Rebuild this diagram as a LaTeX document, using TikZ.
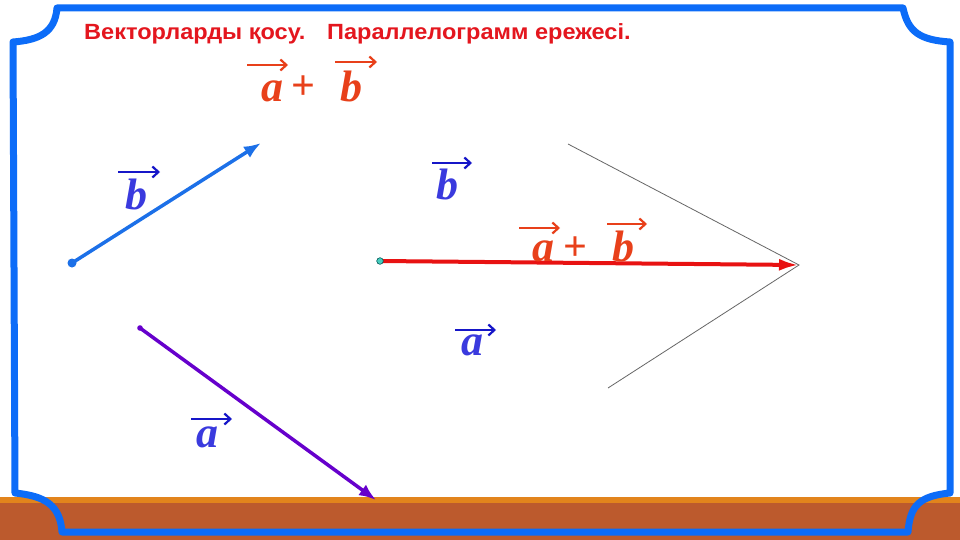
\documentclass[tikz,border=0pt]{standalone}
\usepackage{fontspec}
\setmainfont{Liberation Serif}
\newfontfamily\titlefont[FakeStretch=1.07]{Liberation Sans}
\usetikzlibrary{arrows.meta}
\definecolor{frameblue}{RGB}{12,108,248}
\definecolor{bandorange}{RGB}{226,132,28}
\definecolor{bandbrown}{RGB}{188,90,45}
\definecolor{titlered}{RGB}{228,22,30}
\definecolor{sumred}{RGB}{232,64,26}
\definecolor{labblue}{RGB}{58,58,222}
\definecolor{arrblue}{RGB}{22,22,200}
\definecolor{vecblue}{RGB}{28,112,232}
\definecolor{vecpurple}{RGB}{102,0,204}
\definecolor{vecred}{RGB}{232,18,18}
\definecolor{dotteal}{RGB}{70,205,190}
\begin{document}
\begin{tikzpicture}[x=1pt,y=-1pt,
  titletxt/.style={inner sep=0pt, text=titlered, font=\titlefont\bfseries\fontsize{22}{24}\selectfont},
  veclab/.style={inner sep=0pt, font=\bfseries\itshape\fontsize{44}{48}\selectfont},
  pluslab/.style={inner sep=0pt, font=\bfseries\fontsize{42}{46}\selectfont},
  ovarrow/.style={line width=2.4pt, -{Straight Barb[length=6pt,width=11pt,line width=2.2pt]}},
  vecline/.style={line width=3.5pt, -{Latex[length=17pt,width=13pt]}},
  thinline/.style={draw=black!60, line width=0.8pt}
]
\useasboundingbox (0,0) rectangle (960,540);
\fill[white] (0,0) rectangle (960,540);
% bottom band
\fill[bandbrown] (0,498) rectangle (960,540);
\fill[bandorange] (0,497) rectangle (960,503);
% frame
\draw[frameblue, line width=7pt, line join=round]
  (57,8) -- (903,8)
  .. controls (908,32) and (920,40) .. (950,42)
  -- (950,493)
  .. controls (920,496) and (910,505) .. (908,532)
  -- (62,532)
  .. controls (60,505) and (45,496) .. (15,493)
  -- (13,42)
  .. controls (40,40) and (55,32) .. (57,8) -- cycle;
% title
\node[titletxt, anchor=base west] (t1) at (84,40) {Векторларды қосу.};
\node[titletxt, anchor=base west] (t2) at (327,40) {Параллелограмм ережесі.};
% coordinates of vectors
\coordinate (bs) at (72,263);
\coordinate (be) at (261,143);
\coordinate (as) at (140,328);
\coordinate (ae) at (376,500);
\coordinate (ss) at (380,261);
\coordinate (se) at (799,265);
\coordinate (gt) at (568,144);
\coordinate (gb) at (608,388);
% thin lines
\draw[thinline] (gt) -- (se) -- (gb);
% vectors
\draw[vecline, vecblue] (bs) -- (be);
\fill[vecblue] (bs) circle (4.5);
\draw[vecline, vecpurple] (as) -- (ae);
\fill[vecpurple] (as) circle (2.8);
\draw[vecred, line width=4pt, -{Latex[length=20pt,width=12pt]}] (ss) -- (se);
\filldraw[fill=dotteal, draw=teal!70!black, line width=0.6pt] (ss) circle (3.3);
% top label a + b
\node[veclab, text=sumred, anchor=base] (ta) at (272,102) {a};
\draw[ovarrow, sumred] ([shift={(-25,-37)}]ta.base) -- ++(41,0);
\node[pluslab, text=sumred] (tp) at (303,88) {+};
\node[veclab, text=sumred, anchor=base] (tb) at (351,102) {b};
\draw[ovarrow, sumred] ([shift={(-16,-40)}]tb.base) -- ++(42,0);
% left b
\node[veclab, text=labblue, anchor=base] (lb) at (136,209) {b};
\draw[ovarrow, arrblue] ([shift={(-18,-37)}]lb.base) -- ++(42,0);
% middle b
\node[veclab, text=labblue, anchor=base] (mb) at (447,200) {b};
\draw[ovarrow, arrblue] ([shift={(-15,-37)}]mb.base) -- ++(40,0);
% middle a + b
\node[veclab, text=sumred, anchor=base] (ma) at (543,261) {a};
\draw[ovarrow, sumred] ([shift={(-24,-33)}]ma.base) -- ++(41,0);
\node[pluslab, text=sumred] (mp) at (575,249) {+};
\node[veclab, text=sumred, anchor=base] (mb2) at (623,261) {b};
\draw[ovarrow, sumred] ([shift={(-16,-37)}]mb2.base) -- ++(40,0);
% middle a
\node[veclab, text=labblue, anchor=base] (ra) at (472,355) {a};
\draw[ovarrow, arrblue] ([shift={(-17,-25)}]ra.base) -- ++(41,0);
% bottom a
\node[veclab, text=labblue, anchor=base] (la) at (207,447) {a};
\draw[ovarrow, arrblue] ([shift={(-16,-28)}]la.base) -- ++(41,0);
\end{tikzpicture}
\end{document}
